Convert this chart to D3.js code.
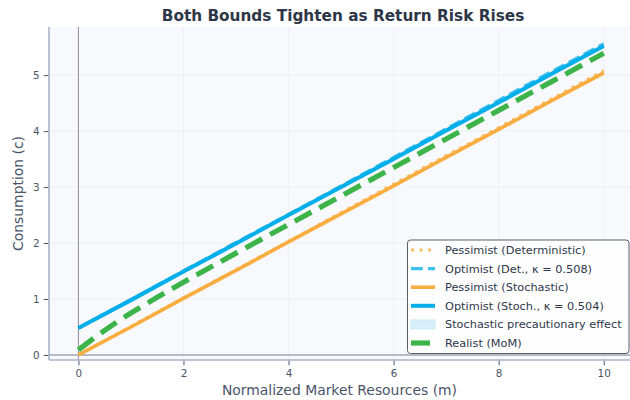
<!DOCTYPE html>
<html>
<head>
<meta charset="utf-8">
<script src="https://cdn.jsdelivr.net/npm/d3@7/dist/d3.min.js"></script>
<style>
  html, body { margin: 0; padding: 0; background: #ffffff; }
  svg { display: block; font-family: "DejaVu Sans", sans-serif; }
</style>
</head>
<body>
<svg id="chart" width="630" height="400"></svg>
<script>
// Market resources grid for the bound lines
const mGrid = [0, 1, 2, 3, 4, 5, 6, 7, 8, 9, 10];

// Bounds on consumption (c) at each m
const pessimistDet   = [0.00, 0.51, 1.02, 1.52, 2.03, 2.54, 3.05, 3.56, 4.06, 4.57, 5.08];
const optimistDet    = [0.48, 0.99, 1.50, 2.01, 2.51, 3.02, 3.53, 4.04, 4.55, 5.06, 5.56];
const pessimistStoch = [0.00, 0.50, 1.01, 1.51, 2.02, 2.52, 3.02, 3.53, 4.03, 4.54, 5.04];
const optimistStoch  = [0.48, 0.98, 1.49, 1.99, 2.50, 3.00, 3.50, 4.01, 4.51, 5.02, 5.52];

// Realist (method of moments) consumption function
const realistM = [0, 0.25, 0.5, 0.75, 1, 1.5, 2, 3, 4, 5, 6, 7, 8, 9, 10];
const realistC = [0.09, 0.27, 0.44, 0.60, 0.75, 1.03, 1.30, 1.82, 2.33, 2.84, 3.35, 3.86, 4.37, 4.88, 5.39];

// Axis ticks
const xTicks = [0, 2, 4, 6, 8, 10];
const yTicks = [0, 1, 2, 3, 4, 5];

const legendLabels = [
  "Pessimist (Deterministic)",
  "Optimist (Det., κ = 0.508)",
  "Pessimist (Stochastic)",
  "Optimist (Stoch., κ = 0.504)",
  "Stochastic precautionary effect",
  "Realist (MoM)"
];

const C = {
  orange: "#f9ad41",
  orangeLight: "#fbbf6a",
  blue: "#00aeea",
  blueLight: "#3fc0ef",
  green: "#3cb44a",
  fill: "#bfe6f7",
  spine: "#a7b3c6",
  text: "#2d3748",
  sub: "#4a5568"
};

const svg = d3.select("#chart");
const L = 49, R = 630, T = 27, B = 360;

const x = d3.scaleLinear().domain([-0.56, 10.5]).range([L, R]);
const y = d3.scaleLinear().domain([-0.09, 5.86]).range([B, T]);

// Plot background
svg.append("rect").attr("x", L).attr("y", T).attr("width", R - L).attr("height", B - T)
  .attr("fill", "#f7f9fc");

// Grid
const grid = svg.append("g");
grid.selectAll(".gx").data(xTicks).enter().append("line")
  .attr("x1", d => x(d)).attr("x2", d => x(d)).attr("y1", T).attr("y2", B)
  .attr("stroke", "#ebeff4").attr("stroke-width", 0.8);
grid.selectAll(".gy").data(yTicks).enter().append("line")
  .attr("x1", L).attr("x2", R).attr("y1", d => y(d)).attr("y2", d => y(d))
  .attr("stroke", "#ebeff4").attr("stroke-width", 0.8);

// Reference lines at m = 0 and c = 0
svg.append("line").attr("x1", x(0)).attr("x2", x(0)).attr("y1", T).attr("y2", B)
  .attr("stroke", "#8c919b").attr("stroke-width", 1);
svg.append("line").attr("x1", L).attr("x2", R).attr("y1", y(0)).attr("y2", y(0))
  .attr("stroke", "#a3a7ae").attr("stroke-width", 1.5);

const clip = svg.append("clipPath").attr("id", "plotclip")
  .append("rect").attr("x", L).attr("y", T).attr("width", R - L).attr("height", B - T);
const plot = svg.append("g").attr("clip-path", "url(#plotclip)");

const line = (xs, ys) => d3.line().x((d, i) => x(xs[i])).y(d => y(d))(ys);

// Precautionary gap between the two optimist bounds
const area = d3.area()
  .x((d, i) => x(mGrid[i]))
  .y0((d, i) => y(optimistStoch[i]))
  .y1(d => y(d));
plot.append("path").attr("d", area(optimistDet)).attr("fill", C.fill).attr("opacity", 0.6);

plot.append("path").attr("d", line(mGrid, pessimistDet))
  .attr("fill", "none").attr("stroke", C.orangeLight).attr("stroke-width", 3.2)
  .attr("stroke-dasharray", "3.2,5.3");
plot.append("path").attr("d", line(mGrid, optimistDet))
  .attr("fill", "none").attr("stroke", C.blueLight).attr("stroke-width", 3.2)
  .attr("stroke-dasharray", "11.8,5.1");
plot.append("path").attr("d", line(mGrid, pessimistStoch))
  .attr("fill", "none").attr("stroke", C.orange).attr("stroke-width", 3.6);
plot.append("path").attr("d", line(mGrid, optimistStoch))
  .attr("fill", "none").attr("stroke", C.blue).attr("stroke-width", 4);
plot.append("path").attr("d", line(realistM, realistC))
  .attr("fill", "none").attr("stroke", C.green).attr("stroke-width", 5.2)
  .attr("stroke-dasharray", "19,9");

// Spines
svg.append("line").attr("x1", L).attr("x2", L).attr("y1", T).attr("y2", B)
  .attr("stroke", C.spine).attr("stroke-width", 1.6);
svg.append("line").attr("x1", L).attr("x2", R).attr("y1", B).attr("y2", B)
  .attr("stroke", C.spine).attr("stroke-width", 1.6);

// Axes
const xAxis = svg.append("g").attr("transform", `translate(0,${B + 0.8})`)
  .call(d3.axisBottom(x).tickValues(xTicks).tickSize(4.5).tickPadding(4).tickFormat(d3.format("d")));
const yAxis = svg.append("g").attr("transform", `translate(${L - 0.8},0)`)
  .call(d3.axisLeft(y).tickValues(yTicks).tickSize(4.5).tickPadding(4).tickFormat(d3.format("d")));
[xAxis, yAxis].forEach(a => {
  a.select(".domain").remove();
  a.selectAll(".tick line").attr("stroke", C.sub).attr("stroke-width", 1);
  a.selectAll(".tick text").attr("fill", C.sub)
    .style("font-family", "DejaVu Sans").style("font-size", "10.4px");
});

// Title and axis labels
svg.append("text").attr("x", 343).attr("y", 21).attr("text-anchor", "middle")
  .attr("fill", C.text).style("font-weight", "bold").style("font-size", "15.3px")
  .text("Both Bounds Tighten as Return Risk Rises");
svg.append("text").attr("x", (L + R) / 2).attr("y", 395).attr("text-anchor", "middle")
  .attr("fill", C.sub).style("font-size", "13.9px")
  .text("Normalized Market Resources (m)");
svg.append("text").attr("transform", `translate(23,${(T + B) / 2}) rotate(-90)`)
  .attr("text-anchor", "middle").attr("fill", C.sub).style("font-size", "13.9px")
  .text("Consumption (c)");

// Legend
const lg = svg.append("g");
lg.append("rect").attr("x", 407.5).attr("y", 240).attr("width", 221.5).attr("height", 113.5)
  .attr("rx", 3).attr("fill", "#ffffff").attr("fill-opacity", 0.85)
  .attr("stroke", "#5a5f66").attr("stroke-width", 1);
const rowY = i => 250 + i * 18.6;
const hx0 = 411, hx1 = 435;
const handles = [
  { type: "line", color: C.orangeLight, w: 3.2, dash: "3.2,5.3" },
  { type: "line", color: C.blueLight, w: 3.2, dash: "11.8,5.1" },
  { type: "line", color: C.orange, w: 3.6, dash: null },
  { type: "line", color: C.blue, w: 4, dash: null },
  { type: "patch" },
  { type: "line", color: C.green, w: 5.2, dash: "19,9" }
];
handles.forEach((h, i) => {
  const cy = rowY(i);
  if (h.type === "patch") {
    lg.append("rect").attr("x", hx0).attr("y", cy - 4.5).attr("width", hx1 - hx0).attr("height", 9)
      .attr("fill", "#d9f0fa").attr("stroke", "#c4e7f6").attr("stroke-width", 0.8);
  } else {
    lg.append("line").attr("x1", hx0).attr("x2", hx1).attr("y1", cy).attr("y2", cy)
      .attr("stroke", h.color).attr("stroke-width", h.w)
      .attr("stroke-dasharray", h.dash);
  }
  lg.append("text").attr("x", 445).attr("y", cy + 4).attr("fill", C.text)
    .style("font-size", "11.3px").text(legendLabels[i]);
});
</script>
</body>
</html>
